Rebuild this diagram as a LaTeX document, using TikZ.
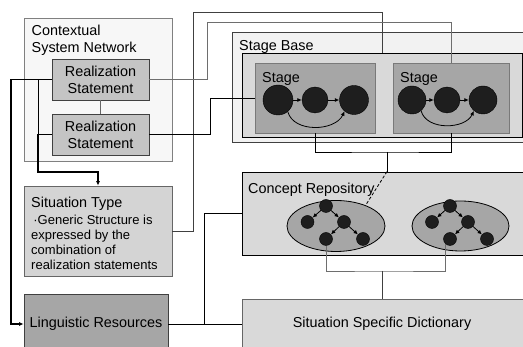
\documentclass[tikz,border=0pt]{standalone}
\usepackage{fontspec}
\setmainfont{Liberation Sans}
\usetikzlibrary{arrows.meta, shapes.geometric}
\definecolor{frame-gray}{HTML}{808080}
\definecolor{edge-dark}{HTML}{404040}
\definecolor{csn-bg}{HTML}{F7F7F7}
\definecolor{rs-bg}{HTML}{C4C4C4}
\definecolor{st-bg}{HTML}{D4D4D4}
\definecolor{base-bg}{HTML}{F2F2F2}
\definecolor{light-bg}{HTML}{D9D9D9}
\definecolor{mid-bg}{HTML}{A6A6A6}
\definecolor{dot-fill}{HTML}{1E1E1E}
\definecolor{link-gray}{HTML}{6E6E6E}

\begin{document}
\begin{tikzpicture}[x=1pt, y=-1pt,
        every node/.style={font=\fontsize{14.4}{17}\selectfont},
        box/.style={draw=edge-dark, line width=0.8pt, inner sep=0pt},
        caption/.style={anchor=north west, inner sep=0pt, align=left},
        dot/.style={circle, draw=black, fill=dot-fill, inner sep=0pt},
        leaf/.style={circle, draw=black, fill=dot-fill, inner sep=0pt, minimum size=13},
        tip/.style={-{Latex[length=4.5pt, width=4pt]}},
        thin-link/.style={line width=0.8pt},
        thick-link/.style={line width=1.6pt}]
      \clip (0,0) rectangle (523,347);
      % left column
      \node[box, draw=frame-gray, fill=csn-bg, minimum width=148, minimum height=143] (CSN) at (98,89.5) {};
      \node[caption] (CSNtext) at (31.5,25) {Contextual\\System Network};
      \node[box, fill=rs-bg, minimum width=97, minimum height=41, align=center] (RSa) at (100.5,79.5) {Realization\\Statement};
      \node[box, fill=rs-bg, minimum width=97, minimum height=41, align=center] (RSb) at (100.5,134.5) {Realization\\Statement};
      \node[box, draw=frame-gray!80!black, fill=st-bg, minimum width=148, minimum height=90] (ST) at (98,231) {};
      \node[caption] (STtitle) at (31,197) {Situation Type};
      \node[caption, font=\fontsize{13}{15}\selectfont] (STbody) at (31,214.6)
            {\,·Generic Structure is\\expressed by the\\combination of\\realization statements};
      \node[box, fill=mid-bg, minimum width=144, minimum height=60] (LR) at (96,324) {Linguistic Resources};
      % stage base
      \node[box, fill=base-bg, minimum width=303, minimum height=110] (SB) at (383.5,87) {};
      \node[caption] (SBtext) at (239,40) {Stage Base};
      \node[box, draw=black, fill=light-bg, minimum width=280, minimum height=84] (SBin) at (382,95) {};
      \node[box, draw=edge-dark!70, fill=mid-bg, minimum width=120, minimum height=70] (StageA) at (315,98) {};
      \node[caption] (StageAtext) at (262,72.5) {Stage};
      \node[box, draw=edge-dark!70, fill=mid-bg, minimum width=116, minimum height=70] (StageB) at (451,98) {};
      \node[caption] (StageBtext) at (400,72.5) {Stage};
      \node[dot, minimum size=30] (SAc1) at (278,100) {};
      \node[dot, minimum size=26] (SAc2) at (315,100) {};
      \node[dot, minimum size=29] (SAc3) at (354,100) {};
      \node[dot, minimum size=28] (SBc1) at (412,100) {};
      \node[dot, minimum size=26] (SBc2) at (447,100) {};
      \node[dot, minimum size=28] (SBc3) at (483,100) {};
      \draw[tip, thin-link] (SAc1) -- (SAc2);
      \draw[tip, thin-link] (SAc2) -- (SAc3);
      \draw[tip, thin-link] (SAc1.-50) to[out=-75, in=-115] (SAc3.-130);
      \draw[tip, thin-link] (SBc1) -- (SBc2);
      \draw[tip, thin-link] (SBc2) -- (SBc3);
      \draw[tip, thin-link] (SBc1.-50) to[out=-75, in=-115] (SBc3.-130);
      % concept repository
      \node[box, draw=black, fill=light-bg, minimum width=293, minimum height=83] (CR) at (388.5,213.5) {};
      \node[caption] (CRtext) at (248,183) {Concept Repository};
      \node[box, draw=black, ellipse, fill=mid-bg, minimum width=98, minimum height=51] (ELa) at (336,226) {};
      \node[box, draw=black, ellipse, fill=mid-bg, minimum width=97, minimum height=50] (ELb) at (460.5,226) {};
      \node[leaf] (TaR) at (326,206) {};
      \node[leaf] (TaL) at (307.5,222) {};
      \node[leaf] (TaM) at (344,222) {};
      \node[leaf] (TaBL) at (326,239) {};
      \node[leaf] (TaBR) at (363,239) {};
      \node[leaf] (TbR) at (450,206) {};
      \node[leaf] (TbL) at (432,222) {};
      \node[leaf] (TbM) at (468,222) {};
      \node[leaf] (TbBL) at (450,239) {};
      \node[leaf] (TbBR) at (487,239) {};
      \foreach \t in {Ta,Tb} {
        \draw[tip, thin-link] (\t R) -- (\t L);
        \draw[tip, thin-link] (\t R) -- (\t M);
        \draw[tip, thin-link] (\t M) -- (\t BL);
        \draw[tip, thin-link] (\t M) -- (\t BR);
      }
      % dictionary
      \node[box, draw=frame-gray!80!black, fill=light-bg, minimum width=293, minimum height=50] (SSD) at (388.5,324) {};
      \node (SSDtext) at (382,324) {Situation Specific Dictionary};
      % connectors
      \coordinate (leftrail) at (11,79.5);
      \coordinate (branch) at (38,79.5);
      \coordinate (rsbjoin) at (38,134.5);
      \coordinate (stbend) at (38,172);
      \draw[thick-link] (RSa.west) -- (leftrail);
      \draw[thick-link, tip] (leftrail) |- (LR.west);
      \draw[thin-link] (branch) -- (rsbjoin);
      \draw[thin-link] (RSb.west) -- (rsbjoin);
      \draw[thick-link, tip] (rsbjoin) -- (stbend) -| (ST.north);
      \draw[thin-link, edge-dark!80] (RSa.south) -- (RSb.north);
      \coordinate (railA) at (193,12);
      \draw[thin-link, edge-dark] (ST.east) -| (railA) -| (SBin.north);
      \coordinate (railB) at (207,22);
      \draw[thin-link, link-gray] (RSa.east) -| (railB) -| (StageB.north);
      \coordinate (railC) at (210,98);
      \draw[thin-link] (RSb.east) -| (railC) -- (StageA.west);
      \coordinate (stagejoin) at (387,152);
      \draw[thin-link] (StageA.south) |- (stagejoin) -| (StageB.south);
      \draw[thin-link] (stagejoin) -- (stagejoin |- CR.north);
      \draw[thin-link, dashed, dash pattern=on 3pt off 2pt] (stagejoin |- CR.north) -- (ELa.35);
      \coordinate (treejoin) at (382,271);
      \draw[thin-link, link-gray] (TaBL.south) |- (treejoin) -| (TbBL.south west);
      \draw[thin-link, edge-dark] (treejoin) -- (treejoin |- SSD.north);
      \coordinate (lrjoin) at (204,324);
      \draw[thin-link] (LR.east) -- (SSD.west);
      \draw[thin-link] (lrjoin) |- (CR.west);
\end{tikzpicture}
\end{document}
